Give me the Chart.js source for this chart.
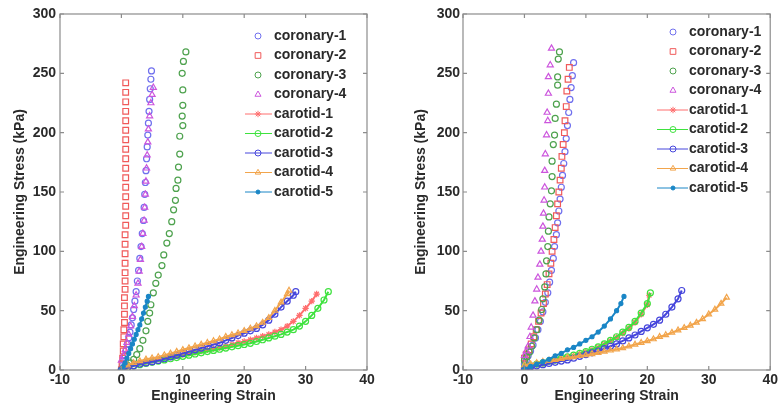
<!DOCTYPE html>
<html>
<head>
<meta charset="utf-8">
<script src="https://cdn.jsdelivr.net/npm/chart.js@4.4.0/dist/chart.umd.min.js"></script>
<style>
  html, body { margin: 0; padding: 0; background: #fff; }
  #wrap { position: relative; width: 780px; height: 411px; }
  canvas { position: absolute; top: 0; }
</style>
</head>
<body>
<div id="wrap">
  <canvas id="left" width="390" height="411" style="left:0"></canvas>
  <canvas id="right" width="390" height="411" style="left:390px"></canvas>
</div>
<script>
// ── Series labels / ticks ───────────────────────────────────────────────────
const seriesLabels = ['coronary-1', 'coronary-2', 'coronary-3', 'coronary-4',
  'carotid-1', 'carotid-2', 'carotid-3', 'carotid-4', 'carotid-5'];
const xTicks = [-10, 0, 10, 20, 30, 40];
const yTicks = [0, 50, 100, 150, 200, 250, 300];

// ── Left panel data: [strain, stress] ───────────────────────────────────────
const leftCor1 = [[0,1],[0.2,4],[0.4,8],[0.6,12],[0.8,17],[1.0,22],[1.2,27],[1.4,32],[1.6,38],[1.8,44],[2.0,51],[2.2,58],[2.4,66],[2.6,75],[2.8,84],[3.0,94],[3.2,104],[3.4,115],[3.6,126],[3.7,137],[3.8,148],[3.9,158],[4.0,168],[4.1,178],[4.2,188],[4.3,198],[4.4,208],[4.5,218],[4.6,228],[4.7,237],[4.8,245],[4.9,252]];
const leftCor2 = [[0,0],[0.1,5],[0.2,10],[0.3,16],[0.3,22],[0.4,28],[0.4,34],[0.5,40],[0.5,47],[0.5,54],[0.5,61],[0.6,68],[0.6,75],[0.6,82],[0.6,90],[0.6,98],[0.6,106],[0.6,114],[0.7,122],[0.7,130],[0.7,138],[0.7,146],[0.7,154],[0.7,162],[0.7,170],[0.7,178],[0.7,186],[0.7,194],[0.7,202],[0.7,210],[0.7,218],[0.7,226],[0.7,234],[0.7,242]];
const leftCor3 = [[0,0],[0.5,2],[1,4],[1.5,6],[2,9],[2.5,13],[3,18],[3.5,25],[4.0,33],[4.3,41],[4.6,48],[4.8,55],[5.2,65],[5.6,73],[6.0,80],[6.6,88],[6.9,97],[7.4,107],[7.8,115],[8.2,125],[8.5,135],[8.8,143],[8.9,153],[9.2,160],[9.3,171],[9.5,182],[9.5,197],[10.0,206],[9.9,214],[10.0,223],[10.0,236],[9.9,250],[10.1,260],[10.5,268]];
const leftCor4 = [[0,8],[0.3,12],[0.6,17],[0.9,23],[1.2,30],[1.5,37],[1.8,45],[2.1,54],[2.4,63],[2.7,73],[2.9,83],[3.1,93],[3.3,104],[3.5,115],[3.7,126],[3.8,137],[3.9,148],[4.0,159],[4.1,170],[4.2,181],[4.3,192],[4.4,203],[4.6,214],[4.8,225],[5.0,232],[5.2,238]];
const leftCar1 = [[0,0],[1,3],[2,5],[3,6],[4,7],[5,8],[6,9],[7,10],[8,11],[9,12],[10,13],[11,14],[12,15],[13,16],[14,17],[15,18],[16,19],[17,20],[18,21.5],[19,23],[20,24],[21,25.5],[22,27],[23,28.5],[24,30],[25,32],[26,34],[27,37],[28,41],[29,46],[30,52],[31,58],[31.8,64]];
const leftCar2 = [[0,0],[1,2],[2,3.5],[3,4.5],[4,5.5],[5,6.5],[6,7.5],[7,8.5],[8,9.5],[9,10.5],[10,11.5],[11,12.5],[12,13.5],[13,14.5],[14,15.5],[15,16.5],[16,17.5],[17,18.5],[18,19.5],[19,20.5],[20,21.5],[21,22.5],[22,24],[23,25.5],[24,27],[25,28.5],[26,30],[27,32],[28,34],[29,37],[30,41],[31,46],[32,52],[33,59],[33.7,66]];
const leftCar3 = [[0,0],[1,2],[2,3.5],[3,5],[4,6],[5,7],[6,8],[7,9.5],[8,11],[9,12.5],[10,14],[11,15.5],[12,17],[13,18.5],[14,20],[15,21.5],[16,23],[17,25],[18,27],[19,29],[20,31],[21,33],[22,35],[23,38],[24,42],[25,47],[26,53],[27,58],[28,63],[28.4,66]];
const leftCar4 = [[0,0],[1,4],[2,6],[3,7.5],[4,9],[5,10],[6,11],[7,12.5],[8,14],[9,15.5],[10,17],[11,18.5],[12,20],[13,21.5],[14,23],[15,24.5],[16,26],[17,28],[18,29.5],[19,31],[20,33],[21,35],[22,37],[23,40],[24,44],[25,50],[26,57],[27,64],[27.3,67]];
const leftCar5 = [[0,0],[0.3,3],[0.6,6],[0.9,10],[1.2,14],[1.5,18],[1.8,22],[2.1,26],[2.4,30],[2.7,34],[3.0,38],[3.3,43],[3.6,48],[3.9,53],[4.2,58],[4.4,62]];

// ── Right panel data ────────────────────────────────────────────────────────
const rightCor1 = [[0,5],[0.3,8],[0.6,12],[1.0,16],[1.4,21],[1.8,27],[2.2,34],[2.6,41],[3.0,49],[3.4,57],[3.8,65],[4.1,74],[4.4,84],[4.7,94],[4.9,104],[5.2,114],[5.4,124],[5.6,134],[5.8,144],[6.0,154],[6.2,164],[6.4,174],[6.6,184],[6.8,195],[7.0,206],[7.2,217],[7.4,228],[7.6,238],[7.8,248],[8.0,259]];
const rightCor2 = [[0,10],[0.3,13],[0.7,17],[1.1,22],[1.5,28],[1.9,34],[2.3,41],[2.7,48],[3.1,56],[3.4,64],[3.7,72],[4.0,81],[4.3,90],[4.5,100],[4.8,110],[5.0,120],[5.2,130],[5.4,140],[5.6,150],[5.8,160],[6.0,170],[6.1,180],[6.3,190],[6.5,200],[6.6,210],[6.8,222],[6.9,235],[7.1,245],[7.3,255]];
const rightCor3 = [[0,8],[0.4,11],[0.8,15],[1.2,20],[1.6,27],[2.0,34],[2.4,42],[2.8,51],[3.0,60],[3.3,70],[3.5,81],[3.6,92],[3.8,104],[3.9,117],[4.0,129],[4.2,140],[4.4,151],[4.5,163],[4.5,176],[4.7,190],[4.9,198],[5.0,212],[5.2,224],[5.4,240],[5.4,247],[5.5,262],[5.7,268]];
const rightCor4 = [[0,12],[0.3,16],[0.6,20],[0.9,28],[1.1,36],[1.4,46],[1.7,58],[2.0,68],[2.2,78],[2.5,89],[2.7,100],[2.9,110],[3.0,121],[3.1,132],[3.2,143],[3.3,154],[3.3,168],[3.4,182],[3.6,198],[3.8,210],[3.7,217],[3.9,233],[3.9,247],[4.2,257],[4.4,271]];
const rightCar1 = [[0,1],[1,3],[2,4.5],[3,5.5],[4,7],[5,8],[6,9.5],[7,10.5],[8,12],[9,13.5],[10,15],[11,17],[12,19],[13,21.5],[14,24.5],[15,27.5],[16,31],[17,35],[18,40],[19,47],[20,55],[20.3,63]];
const rightCar2 = [[0,2],[1,3.5],[2,5],[3,6],[4,7.5],[5,8.5],[6,10],[7,11],[8,12.5],[9,14],[10,15.5],[11,17.5],[12,19.5],[13,22],[14,25],[15,28],[16,32],[17,36],[18,41],[19,48],[20,56],[20.5,65]];
const rightCar3 = [[0,1],[1,2.5],[2,3.5],[3,4.5],[4,5.5],[5,6.5],[6,7.5],[7,8.5],[8,10],[9,11.5],[10,13],[11,14.5],[12,16],[13,18],[14,20],[15,22],[16,24.5],[17,27],[18,29.5],[19,32.5],[20,35.5],[21,38.5],[22,42],[23,47],[24,53],[25,60],[25.6,67]];
const rightCar4 = [[0,4],[1,5],[2,6],[3,7],[4,8],[5,8.5],[6,9.5],[7,10.5],[8,11],[9,12],[10,12.5],[11,13.5],[12,14.5],[13,15.5],[14,16.5],[15,17.5],[16,18.5],[17,20],[18,21.5],[19,23],[20,24.5],[21,26],[22,28],[23,29.5],[24,31.5],[25,33.5],[26,35.5],[27,37.5],[28,40],[29,43],[30,47],[31,51],[32,56],[32.9,61]];
const rightCar5 = [[0,1],[1,3],[2,5],[3,7],[4,9],[5,12],[6,14],[7,17],[8,19],[9,22],[10,25],[11,28],[12,32],[13,37],[14,43],[15,50],[15.7,56],[16.2,62]];

const leftPanel  = [leftCor1, leftCor2, leftCor3, leftCor4, leftCar1, leftCar2, leftCar3, leftCar4, leftCar5];
const rightPanel = [rightCor1, rightCor2, rightCor3, rightCor4, rightCar1, rightCar2, rightCar3, rightCar4, rightCar5];

// ── Styles (Matlab-like markers) ────────────────────────────────────────────
const FONT = "'Liberation Sans', Arial, sans-serif";
const TEXT = '#2a2a2a';
const seriesColors  = ['#7070ee', '#f05a5a', '#4ea24e', '#cc55dd', '#ff6e6e', '#3ee23e', '#4646dc', '#f2a54c', '#1a86c6'];
const seriesMarkers = ['circle', 'rect', 'circle', 'triangle', 'star', 'circle', 'circle', 'triangle', 'circle'];
const seriesRadius  = [3, 4, 3, 3.5, 3.2, 3, 3, 3.2, 2];

function makeDatasets(panel) {
  return seriesLabels.map((label, i) => {
    const carotid = i >= 4;
    return {
      label,
      data: panel[i].map(p => ({ x: p[0], y: p[1] })),
      showLine: carotid,
      borderColor: seriesColors[i],
      backgroundColor: i === 8 ? seriesColors[i] : 'transparent',
      borderWidth: carotid ? 2 : 1,
      pointStyle: seriesMarkers[i],
      pointRadius: seriesRadius[i],
      pointBorderWidth: 1.2,
      tension: 0,
      order: 8 - i,   // later series drawn on top, like Matlab
    };
  });
}

// ── Box, inner tick marks and in-axes legend ────────────────────────────────
const framePlugin = {
  id: 'matlabFrame',
  afterDatasetsDraw(chart, args, opts) {
    const { ctx, chartArea: a, scales: { x, y } } = chart;
    ctx.save();
    ctx.strokeStyle = '#8c8c8c';
    ctx.lineWidth = 1.2;
    ctx.strokeRect(a.left, a.top, a.right - a.left, a.bottom - a.top);
    ctx.beginPath();
    x.ticks.forEach(t => {
      const px = x.getPixelForValue(t.value);
      ctx.moveTo(px, a.bottom); ctx.lineTo(px, a.bottom - 4);
      ctx.moveTo(px, a.top);    ctx.lineTo(px, a.top + 4);
    });
    y.ticks.forEach(t => {
      const py = y.getPixelForValue(t.value);
      ctx.moveTo(a.left, py);  ctx.lineTo(a.left + 4, py);
      ctx.moveTo(a.right, py); ctx.lineTo(a.right - 4, py);
    });
    ctx.stroke();

    // legend
    ctx.font = 'bold 14px ' + FONT;
    ctx.textBaseline = 'middle';
    ctx.textAlign = 'left';
    chart.data.datasets.forEach((ds, i) => {
      const ly = opts.legendTop + i * opts.legendStep;
      ctx.strokeStyle = ds.borderColor;
      ctx.fillStyle = ds.backgroundColor;
      ctx.lineWidth = 1;
      if (ds.showLine) {
        ctx.beginPath();
        ctx.moveTo(opts.lineX0, ly); ctx.lineTo(opts.lineX1, ly);
        ctx.stroke();
      }
      Chart.helpers.drawPoint(ctx, { pointStyle: ds.pointStyle, radius: ds.pointRadius, borderWidth: 1, rotation: 0 }, opts.markerX, ly);
      ctx.fillStyle = TEXT;
      ctx.fillText(ds.label, opts.textX, ly);
    });
    ctx.restore();
  }
};

function makeChart(id, panel, cfg) {
  const tickFont = { family: FONT, size: 14, weight: 'bold' };
  return new Chart(document.getElementById(id), {
    type: 'scatter',
    data: { datasets: makeDatasets(panel) },
    options: {
      responsive: false,
      animation: false,
      devicePixelRatio: 1,
      layout: { padding: { top: 14, right: cfg.padRight, bottom: 6, left: 0 } },
      plugins: { legend: { display: false }, tooltip: { enabled: false }, matlabFrame: cfg },
      scales: {
        x: {
          type: 'linear', min: xTicks[0], max: xTicks[xTicks.length - 1],
          afterBuildTicks: s => { s.ticks = xTicks.map(v => ({ value: v })); },
          ticks: { padding: 2, color: TEXT, font: tickFont, maxRotation: 0 },
          grid: { display: false, drawTicks: false },
          border: { display: false },
          title: { display: true, text: 'Engineering Strain', color: TEXT, font: tickFont, padding: { top: 0, bottom: 0 } },
          afterFit: s => { s.height = 35; },
        },
        y: {
          type: 'linear', min: yTicks[0], max: yTicks[yTicks.length - 1],
          afterBuildTicks: s => { s.ticks = yTicks.map(v => ({ value: v })); },
          ticks: { padding: cfg.yPad, color: TEXT, font: tickFont },
          grid: { display: false, drawTicks: false },
          border: { display: false },
          title: { display: true, text: 'Engineering Stress (kPa)', color: TEXT, font: tickFont, padding: { top: cfg.yTitlePad, bottom: 0 } },
          afterFit: s => { s.width = cfg.yWidth; },
        },
      },
    },
    plugins: [framePlugin],
  });
}

makeChart('left', leftPanel, {
  padRight: 23, yWidth: 60, yPad: 4, yTitlePad: 12,
  legendTop: 36, legendStep: 19.5, lineX0: 245, lineX1: 272, markerX: 258, textX: 274,
});
makeChart('right', rightPanel, {
  padRight: 8, yWidth: 73, yPad: 3, yTitlePad: 23,
  legendTop: 32, legendStep: 19.5, lineX0: 267, lineX1: 298, markerX: 283, textX: 299,
});
</script>
</body>
</html>
